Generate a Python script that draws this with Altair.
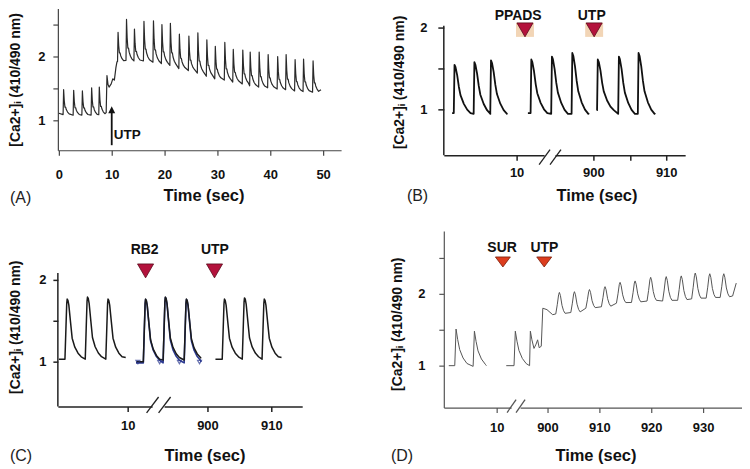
import altair as alt
import pandas as pd

FONT = "Liberation Sans"

# ===================== values =====================
# spikes are (peak time s, trough level, peak level); points are (time s, level)

# ---- Panel A ----
A_start = [(0.0, 1.11)]
A_pre_spikes = [(0.9, 1.09, 1.48), (2.8, 1.08, 1.47), (4.45, 1.08, 1.46),
                (6.2, 1.08, 1.51), (7.65, 1.09, 1.52)]
A_mid = [(8.95, 1.12), (9.1, 1.70), (9.3, 1.56), (9.5, 1.52), (9.9, 1.57),
         (10.2, 1.65), (10.5, 1.63), (10.8, 1.83), (11.0, 1.92)]
A_post_spikes = [(11.2, 1.92, 2.38), (12.8, 1.94, 2.58), (14.3, 1.93, 2.43),
                 (16.1, 1.93, 2.55), (17.9, 1.91, 2.56), (19.5, 1.89, 2.50),
                 (21.1, 1.86, 2.52), (22.8, 1.81, 2.35), (24.6, 1.78, 2.32),
                 (26.3, 1.74, 2.37), (28.0, 1.69, 2.26), (29.6, 1.65, 2.16),
                 (31.4, 1.63, 2.22), (33.0, 1.60, 2.11), (34.8, 1.57, 2.10),
                 (36.2, 1.54, 2.07), (37.9, 1.52, 2.07), (39.6, 1.51, 2.03),
                 (41.4, 1.49, 2.00), (43.0, 1.48, 2.03), (44.7, 1.46, 1.95),
                 (46.3, 1.45, 1.96), (48.1, 1.44, 1.93)]
A_end = [(49.6, 1.48)]
A_xticks = [0, 10, 20, 30, 40, 50]
A_xlabels = ["0", "10", "20", "30", "40", "50"]
A_event_t = 10.0

# ---- Panel B ----
B1_start = [(1.14, 0.955)]
B1_spikes = [(1.47, 0.955, 1.545), (4.2, 0.945, 1.577), (6.48, 0.945, 1.60)]
B1_end = [(8.75, 0.94)]
B2_start = [(891.0, 0.955)]
B2_spikes = [(891.47, 0.955, 1.61), (894.3, 0.945, 1.646), (897.1, 0.945, 1.69)]
B2_end = [(899.4, 0.955)]
B3_start = [(900.45, 0.99)]
B3_spikes = [(900.6, 0.99, 1.61), (903.5, 0.945, 1.646), (906.2, 0.945, 1.69)]
B3_end = [(908.45, 0.96)]
B_events = ["PPADS", "UTP"]
B_event_t = [890.6, 900.1]
B_label_t = [889.66, 899.77]
B_xticks = [10, 900, 905, 910]
B_xlabels = ["10", "900", "", "910"]

# ---- Panel C ----
C1_start = [(-0.78, 1.03)]
C1_spikes = [(0.52, 1.03, 1.765), (3.7, 1.03, 1.79), (6.92, 1.03, 1.765)]
C1_end = [(9.69, 1.05)]
C2_start = [(888.86, 1.0)]
C2_spikes = [(890.3, 1.0, 1.765), (893.4, 1.02, 1.79), (896.7, 1.02, 1.765)]
C2_end = [(899.0, 1.04)]
C2b_start = [(888.8, 0.985)]
C2b_spikes = [(890.3, 0.985, 1.76), (893.4, 0.985, 1.785), (896.7, 0.985, 1.76)]
C2b_end = [(899.0, 0.995)]
C2b_marks = [889.1, 892.5, 895.6, 898.75]
C3_start = [(901.25, 1.03)]
C3_spikes = [(902.66, 1.03, 1.765), (905.8, 1.03, 1.78), (908.9, 1.03, 1.765)]
C3_end = [(911.6, 1.05)]
C_events = ["RB2", "UTP"]
C_event_t = [890.3, 901.1]
C_label_t = [890.16, 901.17]
C_xticks = [10, 900, 910]
C_xlabels = ["10", "900", "910"]

# ---- Panel D ----
D1_start = [(0.77, 1.0)]
D1_spikes = [(2.17, 1.0, 1.51), (5.71, 0.99, 1.48)]
D1_end = [(8.02, 1.0)]
D2_start = [(892.05, 1.0)]
D2_spikes_early = [(893.8, 1.0, 1.48)]
D2_mid = [(896.55, 1.0), (896.7, 1.48), (897.0, 1.36), (897.4, 1.24), (897.8, 1.30),
          (898.1, 1.36), (898.4, 1.25), (898.8, 1.27), (899.1, 1.80), (899.9, 1.78),
          (901.0, 1.71)]
D2_spikes_late = [(902.3, 1.72, 2.02), (905.2, 1.74, 2.03), (908.1, 1.80, 2.06),
                  (911.1, 1.82, 2.10), (914.0, 1.87, 2.16), (916.9, 1.88, 2.18),
                  (919.9, 1.90, 2.23), (922.9, 1.90, 2.24), (925.8, 1.91, 2.25),
                  (928.5, 1.93, 2.29), (931.3, 1.94, 2.28), (934.0, 1.95, 2.28)]
D2_end = [(935.7, 1.97), (936.4, 2.15)]
D_events = ["SUR", "UTP"]
D_event_t = [891.4, 899.37]
D_label_t = [891.25, 899.42]
D_xticks = [10, 900, 910, 920, 930]
D_xlabels = ["10", "900", "910", "920", "930"]

# spike waveforms: (offset from peak in s, fraction of amplitude)
TPL_A = [(-0.1, 0.0), (0.0, 1.0), (0.12, 0.55), (0.25, 0.30), (0.38, 0.30),
         (0.5, 0.2), (0.75, 0.1), (1.05, 0.03)]
TPL_B = [(-0.1, 0.0), (0.0, 1.0), (0.14, 0.95), (0.37, 0.78), (0.6, 0.54),
         (0.82, 0.37), (1.28, 0.19), (1.74, 0.07), (2.2, 0.0)]
TPL_C = [(-0.35, 0.0), (-0.2, 0.5), (-0.07, 0.93), (0.0, 1.0), (0.12, 0.98),
         (0.26, 0.9), (0.52, 0.62), (0.78, 0.35), (1.2, 0.2), (1.7, 0.1), (2.2, 0.04)]
TPL_DE = [(-0.25, 0.0), (0.0, 1.0), (0.32, 0.71), (0.7, 0.44), (1.35, 0.21), (2.1, 0.06)]
TPL_DL = [(-0.7, 0.0), (-0.4, 0.45), (-0.15, 0.9), (0.0, 1.0), (0.2, 0.85),
          (0.5, 0.4), (0.8, 0.15), (1.1, 0.03)]

YTITLE = "[Ca2+]\u1d62 (410/490 nm)"

# ===================== helpers =====================

def trace(*pieces):
    pts = []
    for piece in pieces:
        if piece[0] == "pts":
            pts += list(piece[1])
        else:
            _, spikes, tpl = piece
            for tp, b, p in spikes:
                pts += [(tp + dt, b + f * (p - b)) for dt, f in tpl]
    return pts


def disp(t, off):
    return t if t < 100 else t - off


def line_df(segments, off):
    rows = []
    for si, pts in enumerate(segments):
        for i, (t, v) in enumerate(pts):
            rows.append({"seg": si, "i": i, "x": disp(t, off), "y": v})
    return pd.DataFrame(rows)


def label_expr(vals, labels):
    expr = "''"
    for v, l in reversed(list(zip(vals, labels))):
        expr = f"abs(datum.value - {v:.4f}) < 0.01 ? '{l}' : ({expr})"
    return expr


def make_axes(cfg):
    xv = [disp(t, cfg["off"]) for t in cfg["xticks"]]
    xaxis = alt.Axis(values=xv, labelExpr=label_expr(xv, cfg["xlabels"]),
                     title="Time (sec)", grid=False, tickSize=5,
                     labelPadding=cfg["xlp"], titleX=cfg["tx"], titleY=cfg["ty"],
                     titleBaseline="top", domainColor=cfg["ac"], tickColor=cfg["ac"],
                     domainWidth=cfg["aw"], tickWidth=cfg["aw"], labelFontSize=13,
                     titleFontSize=16.5, labelFlush=False, labelOverlap=False)
    ykw = dict(values=cfg["yticks"],
               labelExpr="datum.value == 1 ? '1' : (datum.value == 2 ? '2' : '')",
               title=YTITLE, grid=False, tickSize=cfg["yts"], labelPadding=cfg["ylp"],
               titlePadding=cfg["ytp"], domain=cfg["ydomain"], domainColor=cfg["ac"],
               tickColor=cfg["ac"], domainWidth=cfg["aw"], tickWidth=cfg["aw"],
               labelFontSize=13, titleFontSize=14, labelFlush=False)
    if "tyy" in cfg:
        ykw["titleY"] = cfg["tyy"]
    yaxis = alt.Axis(**ykw)
    xs = alt.Scale(domain=cfg["xdom"], nice=False, zero=False)
    ys = alt.Scale(domain=cfg["ydom"], nice=False, zero=False)
    X = lambda f="x": alt.X(f, type="quantitative", scale=xs, axis=xaxis)
    Y = lambda f="y": alt.Y(f, type="quantitative", scale=ys, axis=yaxis)
    return X, Y


def panel(cfg):
    X, Y = make_axes(cfg)
    layers = []
    off = cfg["off"]
    for df, col, w in cfg["lines"]:
        layers.append(alt.Chart(df).mark_line(color=col, strokeWidth=w, strokeJoin="round")
                      .encode(x=X(), y=Y(), detail="seg:N", order="i:Q"))
    # y axis line that stops below the top of the plot
    if not cfg["ydomain"]:
        d = pd.DataFrame({"x": [cfg["xdom"][0]], "y": [cfg["ydom"][0]], "y2": [cfg["ytop"]]})
        layers.append(alt.Chart(d).mark_rule(color=cfg["ac"], strokeWidth=cfg["aw"])
                      .encode(x=X(), y=Y(), y2="y2"))
    # axis break
    if "brk" in cfg:
        bc, by, bdx, bdy = cfg["brk"]
        gap = pd.DataFrame({"x": [bc[0]], "x2": [bc[1]], "y": [cfg["ydom"][0]], "y2": [cfg["ydom"][0]]})
        layers.append(alt.Chart(gap).mark_rule(color="white", strokeWidth=4)
                      .encode(x=X(), x2="x2", y=Y(), y2="y2"))
        sl = pd.DataFrame({"x": [c - bdx for c in bc], "x2": [c + bdx for c in bc],
                           "y": [by - bdy] * 2, "y2": [by + bdy] * 2})
        layers.append(alt.Chart(sl).mark_rule(color=cfg["ac"], strokeWidth=1.3)
                      .encode(x=X(), x2="x2", y=Y(), y2="y2"))
    # event markers
    if "events" in cfg:
        ev = pd.DataFrame({"x": [disp(t, off) for t in cfg["event_t"]],
                           "y": [cfg["tri_y"]] * len(cfg["event_t"])})
        lb = pd.DataFrame({"x": [disp(t, off) for t in cfg["label_t"]],
                           "y": [cfg["lab_y"]] * len(cfg["label_t"]),
                           "t": cfg["events"]})
        if cfg.get("box"):
            layers.append(alt.Chart(ev).mark_point(shape="M-1,-0.78L1,-0.78L1,0.78L-1,0.78Z",
                                                   filled=True, fill="#F2D5B6", opacity=1,
                                                   size=324, strokeWidth=0)
                          .encode(x=X(), y=Y()))
        layers.append(alt.Chart(ev).mark_point(shape=cfg["tri_shape"], filled=True,
                                               fill=cfg["tri_fill"], stroke=cfg["tri_stroke"],
                                               strokeWidth=0.8, opacity=1, size=cfg["tri_size"])
                      .encode(x=X(), y=Y()))
        layers.append(alt.Chart(lb).mark_text(fontSize=14, fontWeight="bold", color="#111",
                                              baseline="middle", align="center")
                      .encode(x=X(), y=Y(), text="t:N"))
    for lay in cfg.get("extra", []):
        layers.append(lay(X, Y))
    # panel letter
    let = pd.DataFrame({"t": [cfg["letter"]]})
    layers.append(alt.Chart(let).mark_text(fontSize=16, fontWeight="normal", color="#222",
                                           align="left", baseline="middle")
                  .encode(x=alt.value(cfg["let_xy"][0]), y=alt.value(cfg["let_xy"][1]), text="t:N"))
    return alt.layer(*layers).properties(width=cfg["w"], height=cfg["h"])


# ===================== panels =====================
A_df = line_df([trace(("pts", A_start), ("spk", A_pre_spikes, TPL_A), ("pts", A_mid),
                      ("spk", A_post_spikes, TPL_A), ("pts", A_end))], 0)


def A_arrow(X, Y):
    d = pd.DataFrame({"x": [A_event_t], "y": [0.61], "y2": [1.15]})
    rule = alt.Chart(d).mark_rule(color="#111", strokeWidth=1.8).encode(x=X(), y=Y(), y2="y2")
    head = alt.Chart(pd.DataFrame({"x": [A_event_t], "y": [1.15]})).mark_point(
        shape="M0,-1.25L1,0.75L-1,0.75Z", filled=True, fill="#111", opacity=1,
        size=49, strokeWidth=0).encode(x=X(), y=Y())
    txt = alt.Chart(pd.DataFrame({"x": [A_event_t + 0.38], "y": [0.766], "t": ["UTP"]})).mark_text(
        fontSize=13.5, fontWeight="bold", color="#111", align="left", baseline="middle"
    ).encode(x=X(), y=Y(), text="t:N")
    return alt.layer(rule, head, txt)


A = panel(dict(lines=[(A_df, "#2a2a2a", 1.2)], off=0, xticks=A_xticks, xlabels=A_xlabels,
               xdom=[-0.19, 53.4], ydom=[0.531, 2.75], w=284, h=142,
               xlp=13, tx=146, ty=37, yticks=[1, 1.5, 2, 2.5], yts=5, ylp=8, ytp=15,
               ydomain=True, ac="#444444", aw=1.2,
               extra=[A_arrow], letter="(A)", let_xy=(-48, 190)))

B_off = 879.45
B_df = line_df([trace(("pts", B1_start), ("spk", B1_spikes, TPL_B), ("pts", B1_end)),
                trace(("pts", B2_start), ("spk", B2_spikes, TPL_B), ("pts", B2_end)),
                trace(("pts", B3_start), ("spk", B3_spikes, TPL_B), ("pts", B3_end))], B_off)
B = panel(dict(lines=[(B_df, "#111111", 1.8)], off=B_off, xticks=B_xticks, xlabels=B_xlabels,
               xdom=[0.0, 33.15], ydom=[0.439, 2.232], w=242, h=147,
               xlp=6, tx=153, ty=32, yticks=[1, 1.5, 2], yts=6, ylp=11, ytp=13,
               ydomain=False, ytop=2.024, ac="#222222", aw=1.5,
               brk=([13.84, 15.34], 0.415, 0.75, 0.0915),
               events=B_events, event_t=B_event_t, label_t=B_label_t, tri_y=1.972, lab_y=2.146,
               tri_shape="triangle-down", tri_fill="#B3123C", tri_stroke="#5A0A1A", tri_size=260,
               box=True, letter="(B)", let_xy=(-37, 188)))

C_off = 877.5
C_df = line_df([trace(("pts", C1_start), ("spk", C1_spikes, TPL_C), ("pts", C1_end)),
                trace(("pts", C2_start), ("spk", C2_spikes, TPL_C), ("pts", C2_end)),
                trace(("pts", C3_start), ("spk", C3_spikes, TPL_C), ("pts", C3_end))], C_off)
C_nav = line_df([trace(("pts", C2b_start), ("spk", C2b_spikes, TPL_C), ("pts", C2b_end))], C_off)


def C_marks(X, Y):
    d = pd.DataFrame({"x": [disp(t, C_off) for t in C2b_marks], "y": [0.995] * len(C2b_marks)})
    return alt.Chart(d).mark_point(shape="triangle-down", filled=False, stroke="#2B3990",
                                   strokeWidth=1.2, size=16).encode(x=X(), y=Y())


C = panel(dict(lines=[(C_nav, "#2B3990", 1.6), (C_df, "#1A1A1A", 1.5)], off=C_off,
               xticks=C_xticks, xlabels=C_xlabels,
               xdom=[-0.94, 37.34], ydom=[0.451, 2.598], w=245, h=176,
               xlp=8, tx=147, ty=41, yticks=[1, 1.5, 2], yts=5, ylp=7, ytp=16, tyy=96,
               ydomain=False, ytop=2.085, ac="#222222", aw=1.5,
               brk=([13.9, 15.78], 0.47, 0.94, 0.0976),
               events=C_events, event_t=C_event_t, label_t=C_label_t, tri_y=2.11, lab_y=2.366,
               tri_shape="triangle-down", tri_fill="#B3123C", tri_stroke="#5A0A1A", tri_size=260,
               extra=[C_marks], letter="(C)", let_xy=(-48, 226)))

D_off = 880.2
D_df = line_df([trace(("pts", D1_start), ("spk", D1_spikes, TPL_DE), ("pts", D1_end)),
                trace(("pts", D2_start), ("spk", D2_spikes_early, TPL_DE), ("pts", D2_mid),
                      ("spk", D2_spikes_late, TPL_DL), ("pts", D2_end))], D_off)
D = panel(dict(lines=[(D_df, "#555555", 1.0)], off=D_off, xticks=D_xticks, xlabels=D_xlabels,
               xdom=[-0.19, 57.31], ydom=[0.417, 2.875], w=299, h=177,
               xlp=9, tx=152, ty=40, yticks=[1, 1.5, 2, 2.5], yts=5, ylp=14, ytp=13, tyy=93,
               ydomain=True, ac="#555555", aw=1.2,
               brk=([12.88, 14.61], 0.4375, 0.87, 0.09),
               events=D_events, event_t=D_event_t, label_t=D_label_t, tri_y=2.444, lab_y=2.64,
               tri_shape="M-1,-0.67L1,-0.67L0,0.67Z", tri_fill="#DC3D1E", tri_stroke="#7A1E0A",
               tri_size=225, letter="(D)", let_xy=(-53, 226)))

chart = alt.concat(A, B, C, D, columns=2, spacing={"row": 76, "column": 103},
                   bounds="flush", align="each").properties(padding=0).configure(
    font=FONT).configure_view(stroke=None).configure_axis(
    labelFont=FONT, titleFont=FONT, labelFontWeight="bold", titleFontWeight="bold",
    labelColor="#111111", titleColor="#111111").configure_text(font=FONT)

chart.save("out.html", embed_options={"renderer": "svg", "actions": False})
